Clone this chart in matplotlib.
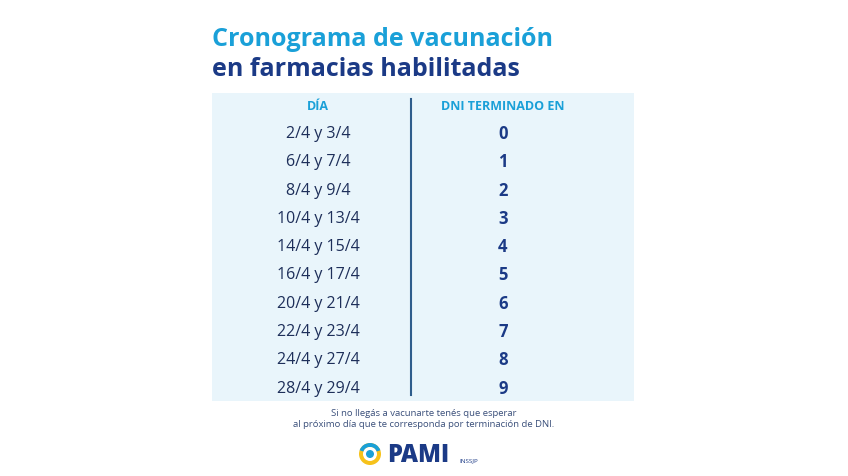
import matplotlib
matplotlib.use("Agg")
import matplotlib.pyplot as plt
from matplotlib.patches import Rectangle, Circle, Wedge

title1 = "Cronograma de vacunación"
title2 = "en farmacias habilitadas"
headers = ["DÍA", "DNI TERMINADO EN"]
dias = ["2/4 y 3/4", "6/4 y 7/4", "8/4 y 9/4", "10/4 y 13/4", "14/4 y 15/4",
        "16/4 y 17/4", "20/4 y 21/4", "22/4 y 23/4", "24/4 y 27/4", "28/4 y 29/4"]
dni = ["0", "1", "2", "3", "4", "5", "6", "7", "8", "9"]
note = "Si no llegás a vacunarte tenés que esperar\nal próximo día que te corresponda por terminación de DNI."

FONT = "Open Sans"
NAVY = "#1b3a86"
CYAN = "#1aa0d8"

fig = plt.figure(figsize=(8.48, 4.77), dpi=100)
ax = fig.add_axes([0, 0, 1, 1])
ax.set_xlim(0, 848); ax.set_ylim(477, 0); ax.axis("off")

ax.text(212, 40, title1, fontsize=18, fontweight="bold", color=CYAN, family=FONT, va="center")
ax.text(212, 70, title2, fontsize=18, fontweight="bold", color=NAVY, family=FONT, va="center")

ax.add_patch(Rectangle((212, 94), 422, 308, color="#e9f5fb", lw=0))
ax.plot([411, 411], [100, 396], color="#2f5d8c", lw=1.5)
ax.text(318, 107, headers[0], fontsize=9, fontweight="bold", color=CYAN, family=FONT, ha="center", va="center")
ax.text(503, 107, headers[1], fontsize=9, fontweight="bold", color=CYAN, family=FONT, ha="center", va="center")
for i, (d, n) in enumerate(zip(dias, dni)):
    y = 134 + i * 28.3
    ax.text(318, y, d, fontsize=11.5, color="#1e2f5a", family=FONT, ha="center", va="center")
    ax.text(503, y, n, fontsize=12, fontweight="bold", color=NAVY, family=FONT, ha="center", va="center")

ax.text(424, 419, note, fontsize=6.8, color="#3a4f7a", family=FONT, ha="center", va="center", linespacing=1.4)

ax.add_patch(Circle((370, 455), 11, color="#f6c21b", lw=0))
ax.add_patch(Wedge((370, 455), 11, 200, 340, width=4, color="#1aa0d8", lw=0))
ax.add_patch(Circle((370, 455), 7, color="white", lw=0))
ax.add_patch(Circle((370, 455), 4, color="#1aa0d8", lw=0))
ax.text(387, 456, "PAMI", fontsize=17, fontweight="heavy", color=NAVY, family=FONT, va="center")
ax.text(459, 461, "INSSJP", fontsize=4.5, color=NAVY, family=FONT, va="center")

fig.savefig("out.png", dpi=100)
